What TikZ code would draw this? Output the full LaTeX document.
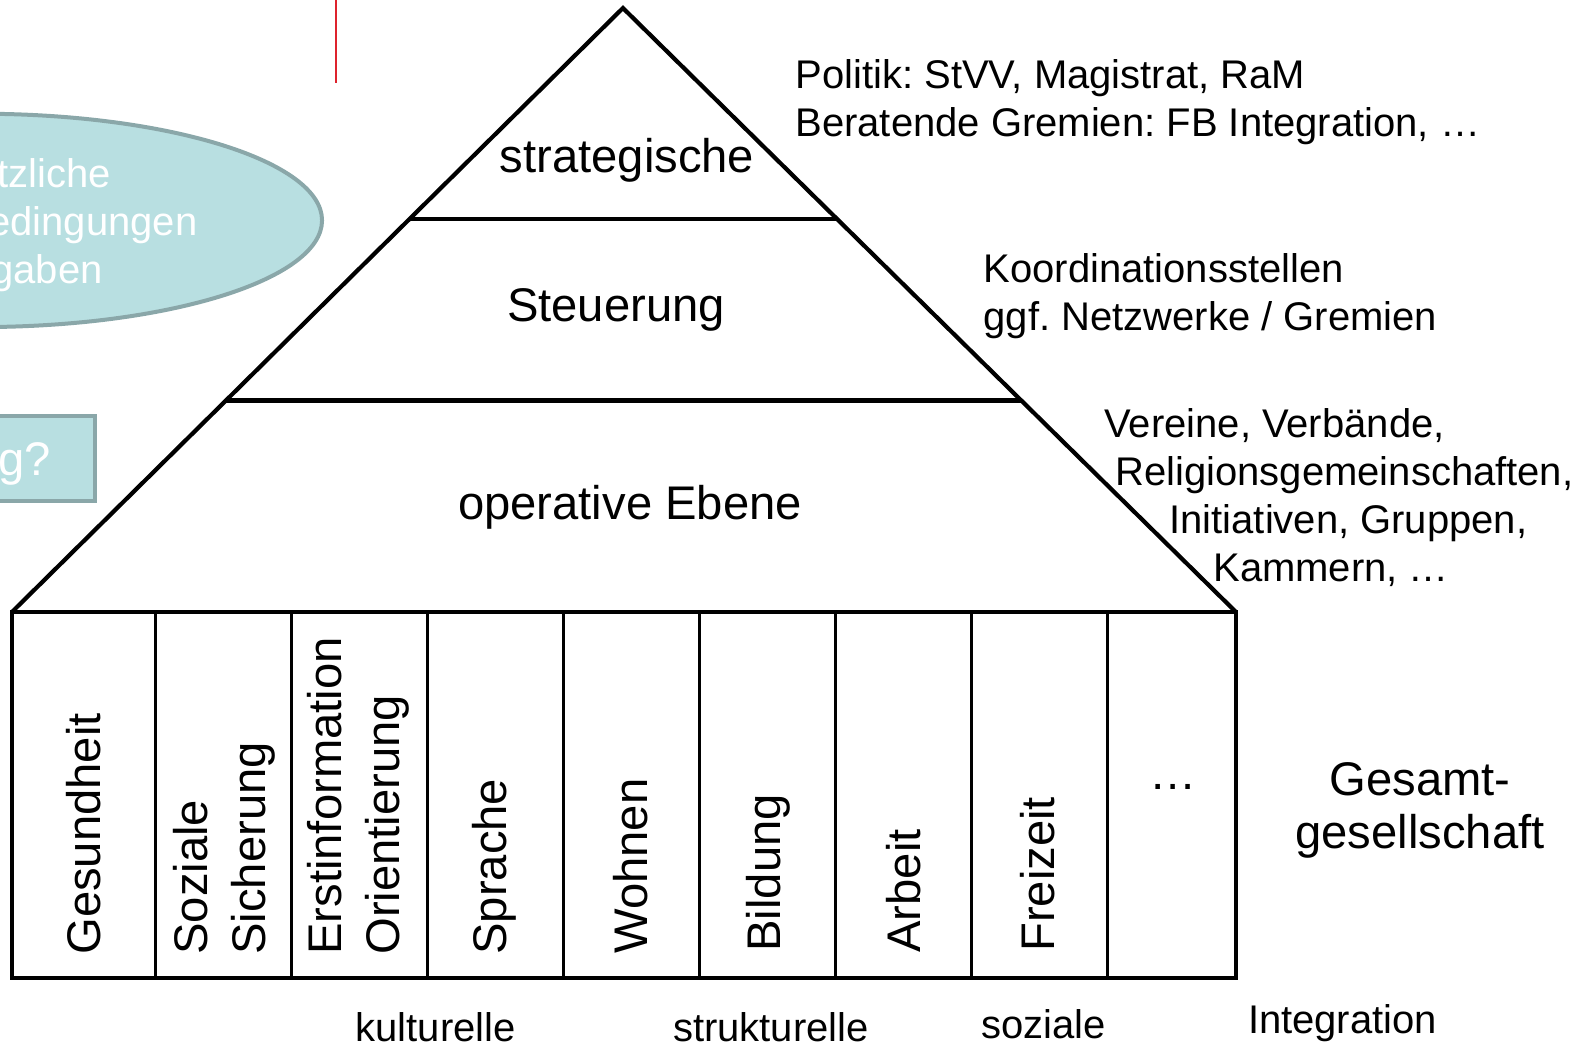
\documentclass[tikz,border=0pt]{standalone}
\usepackage{fontspec}
\setmainfont{Liberation Sans}
\usetikzlibrary{calc}
\frenchspacing

\definecolor{boxfill}{RGB}{184,223,225}
\definecolor{boxline}{RGB}{138,167,169}
\definecolor{redline}{RGB}{222,35,45}

\begin{document}
\begin{tikzpicture}[x=0.5032pt, y=-0.5032pt,
  lvl/.style={font=\fontsize{23.6pt}{28pt}\selectfont, inner sep=0pt},
  note/.style={font=\fontsize{20pt}{24pt}\selectfont, align=left,
               anchor=west, inner sep=0pt},
  col/.style={font=\fontsize{23.6pt}{29pt}\selectfont, rotate=90,
              anchor=west, align=left, inner sep=0pt},
  foot/.style={font=\fontsize{20pt}{24pt}\selectfont, inner sep=0pt},
  pyr/.style={line width=2.1pt, line join=miter},
  sep/.style={line width=1.5pt},
  bluebox/.style={draw=boxline, fill=boxfill, line width=2pt},
  ghost/.style={text=white, inner sep=0pt, align=left, anchor=west}
]
\useasboundingbox (0,0) rectangle (1568,1041);
\clip (0,0) rectangle (1568,1041);

% left-over shapes of the slide
\draw[redline, line width=1pt] (334,0) -- (334,82);
\draw[bluebox] (-20,219) ellipse [x radius=340, y radius=106];
\node[ghost, font=\fontsize{20pt}{24pt}\selectfont] (rahmen) at (-12,224)
  {\hspace*{4.5pt}tzliche\\edingungen\\\hspace*{1.5pt}gaben};
\draw[bluebox] (-20,413) rectangle (94,498);
\node[ghost, font=\fontsize{23.6pt}{28pt}\selectfont] (frage) at (-2,461) {g?};

% pyramid
\coordinate (apex) at (619,8);
\coordinate (bl) at (12,608);
\coordinate (br) at (1228,608);
\draw[pyr] (bl) -- (apex) -- (br);
\draw[pyr] ($(apex)!0.35!(bl)$) -- ($(apex)!0.35!(br)$);
\draw[pyr] ($(apex)!0.65!(bl)$) -- ($(apex)!0.65!(br)$);

\node[lvl] (strat) at (623,159) {strategische};
\node[lvl] (steu)  at (612,308) {Steuerung};
\node[lvl] (oper)  at (626,504) {operative Ebene};

% pillars
\draw[pyr] (bl) rectangle (1228,972);
\foreach \x in {155,290,425,560,695,830,965,1100}
  \draw[sep] (\x,608) -- (\x,972);

\node[col] (gesund) at (83,949)  {Gesundheit};
\node[col] (sozial) at (223,949) {Soziale\\Sicherung};
\node[col] (erst)   at (356,949) {Erstinformation\\Orientierung};
\node[col] (sprach) at (491,949) {Sprache};
\node[col] (wohn)   at (627,948) {Wohnen};
\node[col] (bild)   at (763,946) {Bildung};
\node[col] (arb)    at (898,947) {Arbeit};
\node[col] (frei)   at (1031,946) {Freizeit};
\node[lvl] (mehr)   at (1166,782) {\dots};

% actors
\node[note] (politik) at (790,102)
  {Politik: StVV, Magistrat, RaM\\Beratende Gremien: FB Integration, \dots};
\node[note] (koord) at (977,294)
  {Koordinationsstellen\\ggf. Netzwerke / Gremien};
\node[note] (vereine) at (1097,494)
  {Vereine, Verbände,\\\hspace*{5.5pt}Religionsgemeinschaften,\\
   \hspace*{32.5pt}Initiativen, Gruppen,\\\hspace*{54.5pt}Kammern, \dots};

\node[lvl, align=center, font=\fontsize{23.6pt}{26.5pt}\selectfont]
  (gesamt) at (1411,805) {Gesamt-\\gesellschaft};

% integration types
\node[foot] (kult)  at (433,1021) {kulturelle};
\node[foot] (strukt) at (766,1021) {strukturelle};
\node[foot] (soz)   at (1037,1018) {soziale};
\node[foot] (integ) at (1334,1017) {Integration};
\end{tikzpicture}
\end{document}
